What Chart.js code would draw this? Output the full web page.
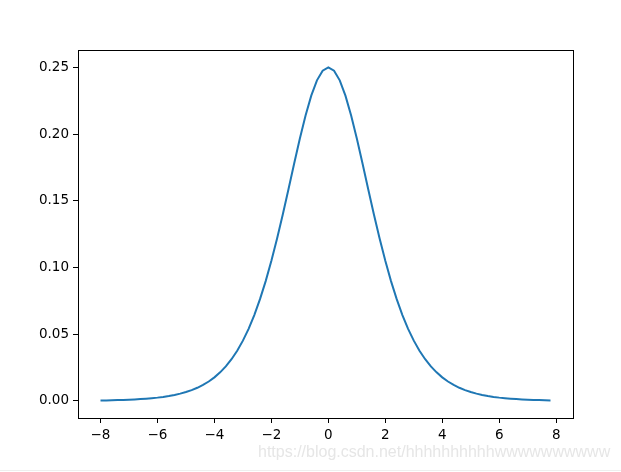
<!DOCTYPE html>
<html>
<head>
<meta charset="utf-8">
<script src="https://cdn.jsdelivr.net/npm/chart.js@4/dist/chart.umd.min.js"></script>
<style>
  html, body { margin: 0; padding: 0; background: #fff; }
  #wrap { position: relative; width: 621px; height: 472px; }
  #mark { position: absolute; left: 258px; top: 443px; font: 16px "Liberation Sans", Arial, sans-serif; color: #e6e6e6; white-space: nowrap; }
  #rule { position: absolute; left: 0; top: 470px; width: 621px; height: 1px; background: #eeeeee; }
</style>
</head>
<body>
<div id="wrap">
  <canvas id="c" width="621" height="472"></canvas>
  <div id="mark">https://blog.csdn.net/hhhhhhhhhhwwwwwwwwww</div>
  <div id="rule"></div>
</div>
<script>
(function() {
  'use strict';

  var xValues = [
    -8.0, -7.8, -7.6, -7.4, -7.2, -7.0, -6.8, -6.6, -6.4, -6.2,
    -6.0, -5.8, -5.6, -5.4, -5.2, -5.0, -4.8, -4.6, -4.4, -4.2,
    -4.0, -3.8, -3.6, -3.4, -3.2, -3.0, -2.8, -2.6, -2.4, -2.2,
    -2.0, -1.8, -1.6, -1.4, -1.2, -1.0, -0.8, -0.6, -0.4, -0.2,
    0.0, 0.2, 0.4, 0.6, 0.8, 1.0, 1.2, 1.4, 1.6, 1.8,
    2.0, 2.2, 2.4, 2.6, 2.8, 3.0, 3.2, 3.4, 3.6, 3.8,
    4.0, 4.2, 4.4, 4.6, 4.8, 5.0, 5.2, 5.4, 5.6, 5.8,
    6.0, 6.2, 6.4, 6.6, 6.8, 7.0, 7.2, 7.4, 7.6, 7.8
  ];
  var yValues = [
    0.000335, 0.000409, 0.000500, 0.000611, 0.000745, 0.000910, 0.001111, 0.001357, 0.001656, 0.002021,
    0.002467, 0.003009, 0.003671, 0.004476, 0.005456, 0.006648, 0.008093, 0.009853, 0.011981, 0.014556,
    0.017663, 0.021403, 0.025890, 0.031252, 0.037632, 0.045177, 0.054038, 0.064358, 0.076255, 0.089800,
    0.104994, 0.121729, 0.139762, 0.158685, 0.177894, 0.196612, 0.213910, 0.228784, 0.240261, 0.247517,
    0.250000, 0.247517, 0.240261, 0.228784, 0.213910, 0.196612, 0.177894, 0.158685, 0.139762, 0.121729,
    0.104994, 0.089800, 0.076255, 0.064358, 0.054038, 0.045177, 0.037632, 0.031252, 0.025890, 0.021403,
    0.017663, 0.014556, 0.011981, 0.009853, 0.008093, 0.006648, 0.005456, 0.004476, 0.003671, 0.003009,
    0.002467, 0.002021, 0.001656, 0.001357, 0.001111, 0.000910, 0.000745, 0.000611, 0.000500, 0.000409
  ];
  var xTicks = [-8, -6, -4, -2, 0, 2, 4, 6, 8];
  var yTicks = [0, 0.05, 0.10, 0.15, 0.20, 0.25];

  var points = xValues.map(function(x, i) { return { x: x, y: yValues[i] }; });

  var tickFont = { family: 'DejaVu Sans', size: 13.5 };

  // full black frame round the plot area, like matplotlib spines
  var frame = {
    id: 'frame',
    afterDraw: function(chart) {
      var a = chart.chartArea, ctx = chart.ctx;
      ctx.save();
      ctx.strokeStyle = '#000';
      ctx.lineWidth = 1;
      ctx.strokeRect(Math.round(a.left) + 0.5, Math.round(a.top) + 0.5,
        Math.round(a.right - a.left), Math.round(a.bottom - a.top));
      ctx.restore();
    }
  };

  new Chart(document.getElementById('c').getContext('2d'), {
    type: 'line',
    data: {
      datasets: [{
        data: points,
        borderColor: '#1f77b4',
        borderWidth: 2,
        pointRadius: 0,
        fill: false,
        tension: 0
      }]
    },
    plugins: [frame],
    options: {
      responsive: false,
      animation: false,
      layout: { padding: { left: 0, right: 48, top: 50, bottom: 0 } },
      plugins: { legend: { display: false }, tooltip: { enabled: false } },
      scales: {
        x: {
          type: 'linear',
          min: -8.79,
          max: 8.59,
          afterBuildTicks: function(s) { s.ticks = xTicks.map(function(v) { return { value: v }; }); },
          afterFit: function(s) { s.height = 54; },
          border: { display: false },
          grid: { drawOnChartArea: false, color: '#000', tickLength: 5, tickWidth: 1 },
          ticks: {
            color: '#000',
            font: tickFont,
            padding: 4,
            maxRotation: 0,
            callback: function(v) { return String(v).replace('-', '\u2212'); }
          }
        },
        y: {
          min: -0.0128,
          max: 0.2630,
          afterBuildTicks: function(s) { s.ticks = yTicks.map(function(v) { return { value: v }; }); },
          afterFit: function(s) { s.width = 78; },
          border: { display: false },
          grid: { drawOnChartArea: false, color: '#000', tickLength: 5, tickWidth: 1 },
          ticks: {
            color: '#000',
            font: tickFont,
            padding: 4,
            callback: function(v) { return v.toFixed(2); }
          }
        }
      }
    }
  });
})();
</script>
</body>
</html>
